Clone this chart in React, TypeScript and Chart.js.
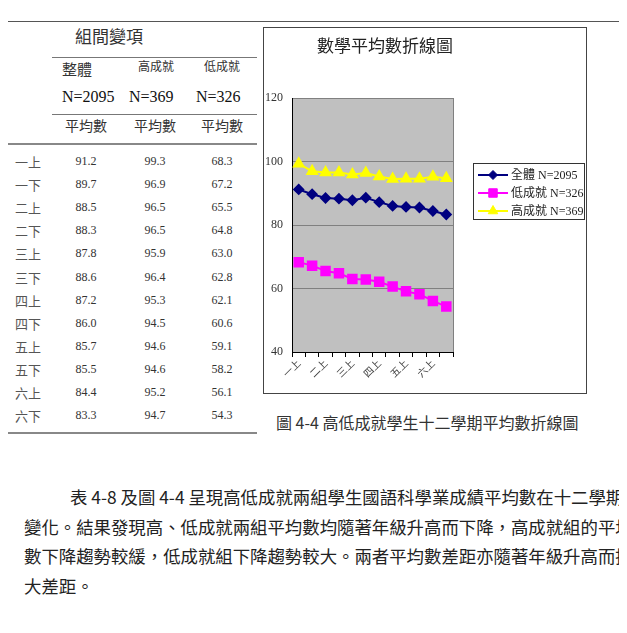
import React, { useEffect, useRef } from "react";
import { Chart, registerables } from "chart.js";

Chart.register(...registerables);

const semesters = ["一上", "一下", "二上", "二下", "三上", "三下", "四上", "四下", "五上", "五下", "六上", "六下"];
const overallValues = [91.2, 89.7, 88.5, 88.3, 87.8, 88.6, 87.2, 86.0, 85.7, 85.5, 84.4, 83.3];
const highValues = [99.3, 96.9, 96.5, 96.5, 95.9, 96.4, 95.3, 94.5, 94.6, 94.6, 95.2, 94.7];
const lowValues = [68.3, 67.2, 65.5, 64.8, 63.0, 62.8, 62.1, 60.6, 59.1, 58.2, 56.1, 54.3];
const seriesNames = ["全體 N=2095", "低成就 N=326", "高成就 N=369"];
const yMin = 40;
const yMax = 120;
const yStep = 20;

const SERIF = "'Liberation Serif', 'Noto Sans CJK TC', serif";
const CJK = "'Noto Sans CJK TC', 'Liberation Serif', serif";

function drawMarker(ctx: CanvasRenderingContext2D, style: string, x: number, y: number, r: number) {
  ctx.beginPath();
  if (style === "rectRot") {
    ctx.moveTo(x, y - r);
    ctx.lineTo(x + r, y);
    ctx.lineTo(x, y + r);
    ctx.lineTo(x - r, y);
    ctx.closePath();
  } else if (style === "rect") {
    const s = r * Math.SQRT1_2;
    ctx.rect(x - s, y - s, 2 * s, 2 * s);
  } else {
    ctx.moveTo(x, y - r);
    ctx.lineTo(x + r * 0.866, y + r * 0.5);
    ctx.lineTo(x - r * 0.866, y + r * 0.5);
    ctx.closePath();
  }
  ctx.fill();
  ctx.stroke();
}

const extrasPlugin = {
  id: "extras",
  beforeDraw(chart: any) {
    const { ctx, chartArea } = chart;
    ctx.save();
    ctx.fillStyle = "#c0c0c0";
    ctx.fillRect(chartArea.left, chartArea.top, chartArea.right - chartArea.left, chartArea.bottom - chartArea.top);
    ctx.restore();
  },
  afterDraw(chart: any) {
    const { ctx, chartArea } = chart;
    ctx.save();
    ctx.strokeStyle = "#808080";
    ctx.lineWidth = 1;
    ctx.beginPath();
    ctx.moveTo(Math.round(chartArea.right) + 0.5, chartArea.top);
    ctx.lineTo(Math.round(chartArea.right) + 0.5, chartArea.bottom);
    ctx.stroke();
    ctx.fillStyle = "#222";
    ctx.font = "17px " + CJK;
    ctx.textAlign = "center";
    ctx.textBaseline = "middle";
    ctx.fillText("數學平均數折線圖", 121, 18);
    const lx = 209.5, ly = 135.5, lw = 111, lh = 56;
    ctx.fillStyle = "#ffffff";
    ctx.fillRect(lx, ly, lw, lh);
    ctx.strokeStyle = "#333";
    ctx.strokeRect(lx, ly, lw, lh);
    chart.data.datasets.forEach((ds: any, i: number) => {
      const y = 147 + i * 18;
      ctx.strokeStyle = ds.borderColor;
      ctx.lineWidth = 2;
      ctx.beginPath();
      ctx.moveTo(214, y);
      ctx.lineTo(244, y);
      ctx.stroke();
      ctx.fillStyle = ds.pointBackgroundColor;
      ctx.strokeStyle = ds.pointBorderColor;
      ctx.lineWidth = 1;
      drawMarker(ctx, ds.pointStyle, 229, y, ds.pointRadius);
      ctx.fillStyle = "#222";
      ctx.font = "12px " + SERIF;
      ctx.textAlign = "left";
      ctx.textBaseline = "middle";
      ctx.fillText(ds.label, 247, y + 1);
    });
    ctx.restore();
  },
};

function ChartBox() {
  const ref = useRef<HTMLCanvasElement | null>(null);
  useEffect(() => {
    if (!ref.current) return;
    const chart = new Chart(ref.current, {
      type: "line",
      data: {
        labels: semesters,
        datasets: [
          {
            label: seriesNames[0],
            data: overallValues,
            borderColor: "#000080",
            backgroundColor: "#000080",
            pointBackgroundColor: "#000080",
            pointBorderColor: "#000080",
            pointStyle: "rectRot",
            pointRadius: 4.5,
            borderWidth: 2,
          },
          {
            label: seriesNames[1],
            data: lowValues,
            borderColor: "#ff00ff",
            backgroundColor: "#ff00ff",
            pointBackgroundColor: "#ff00ff",
            pointBorderColor: "#ff00ff",
            pointStyle: "rect",
            pointRadius: 6,
            borderWidth: 2,
          },
          {
            label: seriesNames[2],
            data: highValues,
            borderColor: "#ffff00",
            backgroundColor: "#ffff00",
            pointBackgroundColor: "#ffff00",
            pointBorderColor: "#ffff00",
            pointStyle: "triangle",
            pointRadius: 5.5,
            borderWidth: 2,
          },
        ] as any,
      },
      options: {
        animation: false,
        responsive: false,
        maintainAspectRatio: false,
        layout: { padding: { top: 70, right: 133, left: 0, bottom: 0 } },
        plugins: { legend: { display: false }, title: { display: false }, tooltip: { enabled: false } },
        scales: {
          x: {
            offset: true,
            afterFit: (s: any) => {
              s.height = 41;
            },
            grid: { drawOnChartArea: false, drawTicks: true, tickLength: 5, color: "#000", offset: true },
            border: { color: "#000", width: 1 },
            ticks: {
              autoSkip: false,
              minRotation: 45,
              maxRotation: 45,
              padding: 0,
              color: "#444",
              font: { family: CJK, size: 10 },
              callback: (_v: any, i: number) => (i % 2 === 0 ? semesters[i] : ""),
            },
          },
          y: {
            min: yMin,
            max: yMax,
            afterFit: (s: any) => {
              s.width = 28;
            },
            grid: { color: "#808080", drawTicks: false, lineWidth: 1 },
            border: { color: "#000", width: 1 },
            ticks: {
              stepSize: yStep,
              padding: 9,
              color: "#333",
              font: { family: SERIF, size: 12 },
            },
          },
        },
      },
      plugins: [extrasPlugin],
    });
    return () => chart.destroy();
  }, []);
  return <canvas ref={ref} width={322} height={365} style={{ display: "block", width: 322, height: 365 }} />;
}

const colCenters = [86, 155, 222];
const rowStartY = 161;
const rowStep = 23.1;

function T({ x, y, size, children, font, color, align }: any) {
  return (
    <div
      style={{
        position: "absolute",
        left: x,
        top: y,
        transform: align === "left" ? "translate(0,-50%)" : "translate(-50%,-50%)",
        fontSize: size,
        fontFamily: font || SERIF,
        color: color || "#333",
        whiteSpace: "nowrap",
        lineHeight: 1,
      }}
    >
      {children}
    </div>
  );
}

function HLine({ x, y, w, h, color }: any) {
  return <div style={{ position: "absolute", left: x, top: y, width: w, height: h || 1, background: color || "#666" }} />;
}

export default function App() {
  const paraLines = [
    { x: 70, text: "表 4-8 及圖 4-4 呈現高低成就兩組學生國語科學業成績平均數在十二學期的" },
    { x: 24, text: "變化。結果發現高、低成就兩組平均數均隨著年級升高而下降，高成就組的平均" },
    { x: 24, text: "數下降趨勢較緩，低成就組下降趨勢較大。兩者平均數差距亦隨著年級升高而擴" },
    { x: 24, text: "大差距。" },
  ];
  return (
    <div style={{ position: "relative", margin: -8, width: 627, height: 633, overflow: "hidden", background: "#fff" }}>
      <HLine x={5} y={21} w={622} h={1} color="#555" />
      <T x={109} y={35} size={17} font={CJK}>組間變項</T>
      <HLine x={52} y={57} w={205} color="#777" />
      <T x={77} y={68} size={15} font={CJK}>整體</T>
      <T x={156} y={66} size={12} font={CJK}>高成就</T>
      <T x={222} y={66} size={12} font={CJK}>低成就</T>
      <T x={62} y={97} size={16} align="left" color="#111">N=2095</T>
      <T x={129} y={97} size={16} align="left" color="#111">N=369</T>
      <T x={196} y={97} size={16} align="left" color="#111">N=326</T>
      <HLine x={52} y={114} w={205} color="#777" />
      {colCenters.map((c, i) => (
        <T key={i} x={c} y={125} size={14} font={CJK}>平均數</T>
      ))}
      <HLine x={5} y={143} w={252} h={2} color="#888" />
      {semesters.map((s, i) => (
        <React.Fragment key={s}>
          <T x={15} y={rowStartY + i * rowStep} size={13} font={CJK} align="left" color="#555">{s}</T>
          <T x={colCenters[0]} y={rowStartY + i * rowStep} size={12}>{overallValues[i].toFixed(1)}</T>
          <T x={colCenters[1]} y={rowStartY + i * rowStep} size={12}>{highValues[i].toFixed(1)}</T>
          <T x={colCenters[2]} y={rowStartY + i * rowStep} size={12}>{lowValues[i].toFixed(1)}</T>
        </React.Fragment>
      ))}
      <HLine x={5} y={432} w={252} h={2} color="#888" />
      <div style={{ position: "absolute", left: 263, top: 27, width: 322, height: 365, border: "1px solid #444" }}>
        <ChartBox />
      </div>
      <T x={276} y={422} size={16} font={CJK} align="left">圖 4-4 高低成就學生十二學期平均數折線圖</T>
      {paraLines.map((l, i) => (
        <T key={i} x={l.x} y={497 + i * 29.5} size={17.4} font={CJK} align="left" color="#222">{l.text}</T>
      ))}
    </div>
  );
}
